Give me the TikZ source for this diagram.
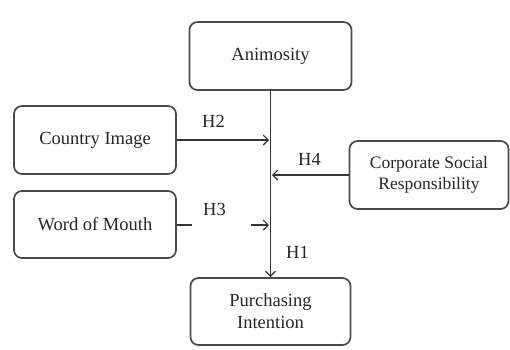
\documentclass[tikz,border=0pt]{standalone}
\usepackage{fontspec}
\setmainfont{Liberation Serif}
\usetikzlibrary{arrows.meta}
\definecolor{boxline}{HTML}{4A4A4A}
\definecolor{txt}{HTML}{262626}
\tikzset{
  box/.style={draw=boxline, line width=1.7pt, rounded corners=8pt, fill=white,
    minimum width=162pt, minimum height=68pt, inner sep=0pt, align=center,
    text=txt, font=\fontsize{18.5}{21.5}\selectfont},
  conn/.style={draw=black!80, line width=1.3pt},
  arr/.style={conn, -{Straight Barb[length=5pt,width=10pt,line width=1.2pt]}},
  hlab/.style={inner sep=0pt, text=txt, font=\fontsize{18.5}{20}\selectfont}
}
\begin{document}
\begin{tikzpicture}[x=1pt,y=-1pt]
\useasboundingbox (0,0) rectangle (510,349);
\node[box] (anim) at (270.5,56) {Animosity};
\node[box] (ci) at (95,140) {Country Image};
\node[box, minimum height=67pt] (wom) at (95,224.5) {Word of Mouth};
\node[box, minimum width=159pt, font=\fontsize{17.5}{21}\selectfont] (csr) at (429,175) {Corporate Social\\Responsibility};
\node[box, minimum width=160pt, minimum height=67pt, font=\fontsize{18.5}{22}\selectfont] (pi) at (270.5,311.5) {Purchasing\\Intention};
\coordinate (j2) at (269,140);
\coordinate (j4) at (272,175);
\coordinate (w1) at (192,225);
\coordinate (w2) at (251,225);
\coordinate (j3) at (269,225);
\draw[arr] (anim.south) -- (pi.north);
\draw[arr] (ci.east) -- (j2);
\draw[arr] (csr.west) -- (j4);
\draw[conn] (wom.east |- w1) -- (w1);
\draw[arr] (w2) -- (j3);
\node[hlab] (h2) at (213.5,121.5) {H2};
\node[hlab] (h4) at (309.5,159) {H4};
\node[hlab] (h3) at (214.5,209) {H3};
\node[hlab] (h1) at (297.5,252) {H1};
\end{tikzpicture}
\end{document}
